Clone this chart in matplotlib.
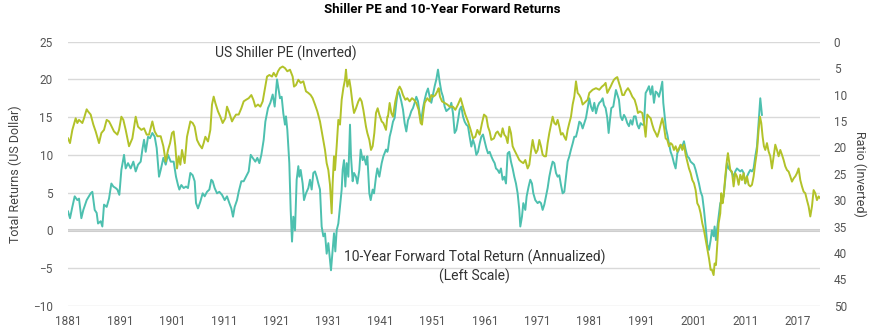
import matplotlib
matplotlib.use("Agg")
import matplotlib.pyplot as plt

plt.rcParams['font.family'] = ['Roboto', 'DejaVu Sans']

# Shiller PE (right axis, inverted)
pe_years = [
    1881.00, 1881.38, 1881.83, 1882.47, 1882.79, 1883.11, 1883.75, 1884.07, 1884.58, 1884.84,
    1885.35, 1885.86, 1886.31, 1886.95, 1887.40, 1887.91, 1888.42, 1888.87, 1889.19, 1889.83,
    1890.47, 1890.79, 1891.24, 1891.62, 1892.07, 1892.71, 1893.35, 1893.99, 1894.44, 1895.08,
    1895.59, 1896.10, 1896.55, 1897.19, 1897.64, 1898.15, 1898.79, 1899.30, 1899.75, 1900.20,
    1900.59, 1900.96, 1901.28, 1901.60, 1901.92, 1902.24, 1902.56, 1902.88, 1903.39, 1903.84,
    1904.48, 1904.93, 1905.31, 1905.76, 1906.21, 1906.72, 1907.04, 1907.36, 1907.87, 1908.32,
    1908.64, 1908.96, 1909.28, 1909.79, 1910.24, 1910.69, 1911.20, 1911.52, 1911.97, 1912.48,
    1912.80, 1913.25, 1913.76, 1914.27, 1914.72, 1915.17, 1915.68, 1916.19, 1916.58, 1916.96,
    1917.47, 1917.92, 1918.37, 1918.75, 1919.20, 1919.65, 1920.16, 1920.48, 1920.93, 1921.31,
    1921.69, 1922.20, 1922.65, 1923.10, 1923.61, 1924.12, 1924.38, 1924.76, 1925.21, 1925.66,
    1926.17, 1926.68, 1927.13, 1927.58, 1927.96, 1928.41, 1928.86, 1929.37, 1929.88, 1930.33,
    1930.65, 1930.97, 1931.29, 1931.61, 1931.80, 1932.06, 1932.25, 1932.57, 1932.89, 1933.21,
    1933.53, 1933.85, 1934.17, 1934.36, 1934.62, 1935.00, 1935.26, 1935.64, 1935.90, 1936.28,
    1936.73, 1937.05, 1937.37, 1937.69, 1938.20, 1938.46, 1938.84, 1939.16, 1939.48, 1939.80,
    1940.12, 1940.44, 1940.76, 1941.21, 1941.53, 1942.04, 1942.30, 1942.42, 1942.74, 1943.06,
    1943.38, 1943.83, 1944.34, 1944.66, 1944.98, 1945.30, 1945.75, 1946.13, 1946.58, 1947.03,
    1947.41, 1947.86, 1948.31, 1948.69, 1948.95, 1949.20, 1949.46, 1949.97, 1950.42, 1950.74,
    1951.12, 1951.51, 1951.89, 1952.15, 1952.40, 1952.79, 1953.30, 1953.81, 1954.26, 1954.90,
    1955.35, 1955.86, 1956.37, 1956.82, 1957.27, 1957.78, 1958.29, 1958.74, 1959.19, 1959.57,
    1960.02, 1960.47, 1960.85, 1961.30, 1961.62, 1961.94, 1962.26, 1962.77, 1963.15, 1963.47,
    1963.79, 1964.11, 1964.43, 1964.75, 1965.07, 1965.39, 1965.71, 1966.03, 1966.35, 1966.67,
    1967.12, 1967.63, 1967.95, 1968.40, 1968.78, 1969.23, 1969.55, 1969.87, 1970.19, 1970.51,
    1970.83, 1971.15, 1971.47, 1971.79, 1972.11, 1972.43, 1972.75, 1973.07, 1973.39, 1973.71,
    1974.03, 1974.35, 1974.67, 1974.99, 1975.31, 1975.63, 1975.95, 1976.27, 1976.59, 1976.91,
    1977.23, 1977.55, 1977.87, 1978.19, 1978.51, 1978.83, 1979.15, 1979.47, 1979.79, 1980.11,
    1980.43, 1980.75, 1981.07, 1981.39, 1981.71, 1982.35, 1982.99, 1983.50, 1983.88, 1984.20,
    1984.52, 1984.84, 1985.16, 1985.48, 1985.80, 1986.12, 1986.44, 1986.76, 1987.08, 1987.40,
    1987.72, 1988.04, 1988.49, 1988.87, 1989.32, 1989.77, 1990.15, 1990.41, 1990.79, 1991.24,
    1991.56, 1991.88, 1992.20, 1992.52, 1992.84, 1993.16, 1993.48, 1993.80, 1994.12, 1994.44,
    1994.76, 1995.08, 1995.40, 1995.72, 1996.04, 1996.36, 1996.68, 1997.00, 1997.32, 1997.64,
    1997.96, 1998.28, 1998.60, 1998.92, 1999.24, 1999.56, 1999.88, 2000.20, 2000.52, 2000.84,
    2001.16, 2001.48, 2001.80, 2002.12, 2002.44, 2002.76, 2003.08, 2003.40, 2003.72, 2004.04,
    2004.36, 2004.61, 2004.93, 2005.12, 2005.38, 2005.57, 2005.76, 2005.89, 2006.21, 2006.40,
    2006.66, 2006.85, 2007.17, 2007.49, 2007.68, 2007.94, 2008.13, 2008.45, 2008.77, 2009.09,
    2009.41, 2009.73, 2010.05, 2010.37, 2010.69, 2011.01, 2011.33, 2011.65, 2011.97, 2012.29,
    2012.61, 2012.93, 2013.25, 2013.57, 2013.83, 2014.08, 2014.34, 2014.59, 2014.85, 2015.17,
    2015.49, 2015.81, 2016.13, 2016.45, 2016.77, 2017.09, 2017.41, 2017.73, 2018.05, 2018.37,
    2018.69, 2019.01, 2019.33, 2019.65, 2019.97, 2020.29, 2020.61, 2020.93, 2021.25, 2021.57,
    2021.89, 2022.21, 2022.53, 2022.85, 2023.17, 2023.49, 2023.81, 2024.13, 2024.45, 2024.77,
    2025.09, 2025.35,
]
pe_values = [
    18.3, 19.2, 16.7, 14.5, 15.4, 14.8, 15.4, 14.5, 12.8, 13.2,
    13.8, 15.7, 17.0, 19.2, 17.3, 16.7, 14.8, 15.1, 15.7, 17.0,
    17.6, 16.7, 14.2, 14.8, 16.7, 19.8, 18.3, 14.2, 16.1, 16.7,
    16.4, 17.6, 17.6, 15.1, 17.0, 17.9, 17.9, 19.8, 22.7, 20.5,
    19.2, 17.3, 17.0, 19.8, 24.0, 21.7, 23.3, 20.5, 23.0, 18.0,
    15.1, 15.4, 16.1, 18.6, 19.5, 20.2, 19.2, 18.0, 18.9, 16.7,
    11.9, 10.4, 11.6, 13.2, 14.2, 15.4, 14.5, 12.3, 13.5, 15.1,
    14.5, 13.8, 13.8, 12.6, 11.3, 11.0, 10.7, 10.1, 11.0, 12.3,
    11.9, 12.3, 11.3, 9.1, 6.6, 6.3, 6.6, 5.9, 6.6, 5.6,
    5.0, 4.7, 5.0, 5.6, 5.3, 6.6, 8.5, 8.2, 7.2, 7.8,
    7.5, 9.4, 9.7, 10.1, 10.7, 11.9, 13.2, 15.1, 18.0, 20.5,
    23.0, 24.3, 27.1, 32.5, 26.8, 21.7, 24.3, 19.8, 14.8, 15.7,
    11.0, 8.8, 7.2, 5.3, 8.5, 7.2, 8.8, 11.9, 13.5, 12.6,
    11.3, 10.7, 11.3, 12.9, 16.1, 17.3, 18.6, 20.5, 19.8, 17.3,
    13.5, 12.6, 13.8, 15.1, 15.4, 16.7, 14.2, 14.2, 11.6, 13.5,
    14.2, 11.3, 9.1, 8.5, 9.1, 10.1, 11.0, 10.7, 11.3, 10.7,
    11.0, 11.6, 12.9, 15.4, 15.7, 13.5, 11.6, 10.7, 11.3, 10.1,
    10.4, 10.1, 9.4, 8.8, 10.4, 11.3, 11.6, 11.9, 12.3, 12.3,
    12.9, 11.9, 10.7, 12.3, 13.8, 15.1, 16.7, 18.3, 18.0, 16.7,
    17.6, 15.4, 13.8, 14.2, 16.1, 17.0, 18.6, 18.3, 17.3, 17.0,
    17.6, 18.0, 16.4, 17.6, 18.0, 19.2, 16.1, 17.3, 19.8, 20.5,
    21.4, 22.4, 22.7, 23.0, 22.4, 24.0, 23.3, 20.8, 18.6, 20.2,
    21.1, 20.5, 18.6, 19.8, 21.4, 21.7, 21.7, 19.2, 17.3, 15.7,
    14.2, 15.4, 15.7, 14.8, 16.1, 17.6, 17.3, 18.0, 18.6, 16.7,
    15.4, 14.2, 11.9, 10.4, 7.5, 9.7, 10.1, 10.7, 11.9, 11.6,
    11.3, 11.0, 9.7, 9.4, 9.1, 8.8, 9.1, 8.5, 8.2, 7.8,
    9.7, 9.1, 8.5, 7.8, 7.2, 6.9, 6.7, 7.8, 8.8, 10.1,
    10.1, 9.4, 8.8, 9.4, 10.4, 11.0, 12.3, 13.5, 13.2, 13.5,
    15.4, 18.0, 13.8, 14.2, 14.5, 15.7, 16.7, 17.3, 18.0, 17.0,
    15.7, 14.5, 16.1, 18.3, 18.6, 19.8, 19.2, 19.5, 20.5, 19.8,
    20.8, 20.2, 19.5, 20.5, 19.5, 21.4, 22.7, 24.0, 24.9, 26.2,
    26.8, 28.1, 30.6, 31.2, 32.5, 34.4, 35.7, 37.5, 39.4, 41.0,
    43.2, 43.2, 44.2, 42.0, 42.3, 39.4, 36.3, 34.4, 32.5, 28.7,
    30.6, 29.3, 25.5, 22.4, 21.1, 23.0, 24.3, 24.6, 27.4, 24.9,
    25.5, 27.1, 25.2, 26.2, 24.9, 26.8, 25.5, 27.1, 27.4, 27.1,
    25.5, 23.0, 20.8, 16.7, 14.2, 15.4, 18.0, 19.8, 20.5, 19.2,
    20.8, 21.7, 24.0, 21.7, 19.5, 20.5, 21.7, 20.5, 21.4, 22.4,
    23.6, 24.3, 24.6, 25.5, 26.5, 25.9, 25.5, 24.9, 24.0, 26.2,
    27.4, 28.4, 28.7, 30.0, 31.2, 33.1, 31.2, 28.1, 28.7, 30.0,
    29.3, 29.6,
]

# 10-year forward total return, annualized (left axis)
ret_years = [
    1881.00, 1881.38, 1881.83, 1882.28, 1882.79, 1883.11, 1883.56, 1883.94, 1884.58, 1885.35,
    1885.67, 1886.12, 1886.50, 1886.76, 1887.27, 1887.59, 1887.91, 1888.42, 1888.87, 1889.32,
    1889.70, 1890.15, 1890.47, 1890.85, 1891.24, 1891.75, 1892.07, 1892.52, 1893.03, 1893.54,
    1893.99, 1894.44, 1894.95, 1895.27, 1895.59, 1895.91, 1896.36, 1896.74, 1897.19, 1897.64,
    1898.02, 1898.47, 1898.79, 1899.30, 1899.75, 1900.20, 1900.71, 1900.96, 1901.28, 1901.73,
    1902.11, 1902.37, 1902.75, 1903.20, 1903.65, 1904.03, 1904.48, 1904.93, 1905.31, 1905.57,
    1905.95, 1906.40, 1906.85, 1907.23, 1907.68, 1908.13, 1908.51, 1908.77, 1909.15, 1909.60,
    1910.05, 1910.56, 1911.07, 1911.52, 1911.97, 1912.35, 1912.67, 1912.99, 1913.44, 1913.76,
    1914.27, 1914.72, 1915.17, 1915.68, 1916.07, 1916.45, 1916.96, 1917.34, 1917.73, 1918.11,
    1918.56, 1918.88, 1919.39, 1919.84, 1920.29, 1920.67, 1921.12, 1921.44, 1921.69, 1922.01,
    1922.33, 1922.65, 1922.84, 1923.10, 1923.48, 1923.74, 1924.00, 1924.25, 1924.57, 1924.89,
    1925.21, 1925.40, 1925.66, 1926.04, 1926.30, 1926.68, 1927.13, 1927.45, 1927.77, 1928.09,
    1928.41, 1928.73, 1929.05, 1929.37, 1929.69, 1930.01, 1930.33, 1930.65, 1930.97, 1931.29,
    1931.48, 1931.80, 1932.06, 1932.31, 1932.57, 1932.89, 1933.21, 1933.53, 1933.72, 1933.98,
    1934.23, 1934.49, 1934.81, 1935.13, 1935.32, 1935.64, 1935.90, 1936.28, 1936.54, 1936.92,
    1937.18, 1937.56, 1937.82, 1938.20, 1938.46, 1938.84, 1939.10, 1939.48, 1939.74, 1940.12,
    1940.38, 1940.76, 1941.21, 1941.53, 1942.04, 1942.30, 1942.42, 1942.74, 1943.06, 1943.38,
    1943.70, 1944.02, 1944.34, 1944.66, 1944.98, 1945.30, 1945.62, 1945.94, 1946.26, 1946.58,
    1946.90, 1947.22, 1947.54, 1947.86, 1948.18, 1948.50, 1948.82, 1949.14, 1949.46, 1949.78,
    1950.10, 1950.42, 1950.74, 1951.06, 1951.38, 1951.70, 1952.02, 1952.34, 1952.66, 1952.98,
    1953.30, 1953.62, 1953.94, 1954.26, 1954.58, 1954.90, 1955.22, 1955.54, 1955.86, 1956.18,
    1956.50, 1956.82, 1957.14, 1957.46, 1957.78, 1958.10, 1958.42, 1958.74, 1959.06, 1959.38,
    1959.70, 1960.02, 1960.34, 1960.66, 1960.98, 1961.30, 1961.62, 1961.94, 1962.26, 1962.58,
    1962.90, 1963.15, 1963.47, 1963.79, 1964.11, 1964.43, 1964.75, 1965.07, 1965.39, 1965.71,
    1966.03, 1966.35, 1966.67, 1966.99, 1967.31, 1967.63, 1967.82, 1968.14, 1968.40, 1968.78,
    1969.04, 1969.42, 1969.74, 1970.06, 1970.32, 1970.70, 1971.15, 1971.47, 1971.79, 1972.11,
    1972.43, 1972.75, 1973.07, 1973.39, 1973.71, 1974.03, 1974.35, 1974.67, 1974.99, 1975.31,
    1975.63, 1975.95, 1976.27, 1976.59, 1976.91, 1977.23, 1977.55, 1977.87, 1978.19, 1978.51,
    1978.83, 1979.15, 1979.47, 1979.79, 1980.11, 1980.43, 1980.75, 1981.07, 1981.39, 1981.71,
    1982.03, 1982.35, 1982.67, 1982.99, 1983.31, 1983.63, 1983.88, 1984.20, 1984.52, 1984.78,
    1985.03, 1985.29, 1985.67, 1985.93, 1986.18, 1986.44, 1986.76, 1987.08, 1987.40, 1987.72,
    1988.04, 1988.36, 1988.68, 1989.00, 1989.32, 1989.64, 1989.96, 1990.28, 1990.60, 1990.92,
    1991.24, 1991.56, 1991.88, 1992.20, 1992.52, 1992.84, 1993.16, 1993.48, 1993.80, 1994.12,
    1994.44, 1994.76, 1995.08, 1995.27, 1995.53, 1995.78, 1996.04, 1996.36, 1996.68, 1997.00,
    1997.32, 1997.64, 1997.96, 1998.28, 1998.60, 1998.92, 1999.24, 1999.56, 1999.88, 2000.20,
    2000.52, 2000.84, 2001.16, 2001.48, 2001.80, 2002.12, 2002.44, 2002.76, 2003.08, 2003.40,
    2003.72, 2004.04, 2004.36, 2004.61, 2004.93, 2005.12, 2005.38, 2005.57, 2005.89, 2006.21,
    2006.53, 2006.85, 2007.17, 2007.49, 2007.81, 2008.13, 2008.45, 2008.77, 2009.09, 2009.41,
    2009.73, 2010.05, 2010.37, 2010.69, 2011.01, 2011.33, 2011.65, 2011.97, 2012.29, 2012.61,
    2012.93, 2013.25, 2013.57, 2013.89, 2014.21,
]
ret_values = [
    2.5, 1.6, 3.1, 4.5, 4.0, 4.2, 1.6, 2.7, 4.0, 4.9,
    5.1, 2.7, 2.3, 0.9, 1.2, 0.5, 3.4, 3.1, 4.2, 6.2,
    5.8, 5.6, 5.4, 4.7, 8.0, 10.0, 8.2, 8.9, 8.2, 9.1,
    7.8, 8.7, 9.1, 10.7, 12.0, 10.4, 12.4, 12.2, 12.9, 12.4,
    10.9, 7.1, 8.0, 9.6, 8.7, 10.0, 9.1, 9.1, 9.1, 7.1,
    6.0, 5.4, 6.0, 5.6, 5.8, 5.6, 7.6, 7.3, 6.5, 3.6,
    2.9, 3.8, 4.9, 4.5, 5.1, 5.4, 6.7, 6.5, 5.6, 4.9,
    5.1, 4.7, 4.0, 4.5, 3.6, 2.9, 1.8, 3.1, 4.0, 5.1,
    6.5, 6.5, 7.1, 7.8, 10.0, 9.6, 9.1, 9.6, 8.9, 10.0,
    12.0, 14.4, 16.2, 16.9, 18.0, 16.4, 20.0, 18.6, 17.5, 17.7,
    15.5, 14.0, 15.1, 13.3, 8.9, 2.7, -1.5, 1.8, 0.0, 6.7,
    8.5, 7.1, 8.0, 6.2, 4.0, 4.9, 5.6, 6.7, 5.4, 7.6,
    7.8, 7.1, 6.2, 5.4, 0.5, -0.8, -0.4, -3.1, -1.7, -3.9,
    -5.3, -2.6, -0.4, -2.8, 0.0, 0.9, 3.1, 5.4, 8.0, 9.3,
    5.8, 8.9, 7.1, 14.0, 9.8, 6.5, 7.6, 7.1, 6.2, 8.0,
    10.7, 9.3, 9.8, 8.7, 9.8, 4.9, 4.0, 5.4, 4.9, 7.1,
    8.2, 7.1, 8.9, 9.8, 10.7, 10.4, 10.7, 12.4, 13.3, 14.4,
    14.9, 16.9, 18.6, 18.0, 17.1, 16.0, 14.2, 13.1, 14.6, 15.1,
    15.8, 16.2, 16.9, 17.7, 17.1, 15.5, 14.6, 16.2, 17.3, 18.2,
    18.8, 17.7, 16.9, 18.0, 19.1, 20.0, 21.3, 19.7, 18.4, 17.7,
    16.4, 15.8, 16.0, 16.2, 16.9, 15.5, 12.9, 13.3, 14.6, 16.0,
    16.4, 15.1, 14.4, 14.0, 13.8, 12.4, 11.1, 12.0, 11.3, 10.0,
    10.4, 11.5, 12.4, 12.7, 11.8, 10.9, 10.2, 10.4, 9.8, 9.3,
    8.9, 8.2, 8.0, 7.6, 8.2, 6.7, 7.1, 6.2, 10.2, 10.4,
    9.1, 8.2, 7.1, 6.2, 4.9, 2.7, 0.5, 1.8, 3.6, 2.7,
    4.5, 5.8, 6.7, 6.2, 4.9, 4.0, 3.6, 3.8, 3.6, 2.7,
    3.4, 4.5, 5.6, 7.1, 8.2, 9.1, 8.9, 7.6, 7.1, 7.3,
    6.0, 4.9, 5.1, 7.1, 9.1, 9.8, 10.7, 11.5, 12.4, 12.4,
    13.3, 14.4, 14.2, 13.5, 14.2, 14.9, 16.2, 17.5, 16.4, 15.8,
    16.9, 15.5, 16.4, 16.9, 17.1, 17.5, 16.6, 16.2, 14.9, 12.9,
    14.6, 16.2, 16.4, 17.5, 18.6, 18.0, 17.3, 15.1, 14.6, 15.3,
    14.9, 14.2, 13.8, 14.6, 14.0, 15.1, 15.1, 14.0, 13.5, 14.2,
    14.0, 14.0, 18.2, 18.6, 19.1, 18.0, 19.1, 16.9, 18.4, 18.2,
    17.7, 18.6, 19.7, 16.9, 15.1, 13.5, 12.7, 11.5, 10.4, 9.8,
    8.9, 8.2, 10.2, 10.7, 11.3, 11.1, 11.8, 10.7, 9.8, 9.6,
    9.1, 8.9, 8.7, 8.0, 7.1, 6.2, 5.1, 4.5, 2.7, 0.5,
    -1.9, -2.6, -1.3, 0.0, -0.8, 0.5, -1.3, 0.0, 1.8, 3.6,
    4.0, 4.5, 6.7, 8.9, 8.2, 8.0, 7.6, 7.1, 7.8, 8.2,
    8.0, 7.8, 8.0, 7.6, 6.2, 7.1, 7.6, 8.0, 7.8, 8.2,
    9.8, 11.1, 14.2, 17.5, 15.3,
]

tick_years = [1881, 1891, 1901, 1911, 1921, 1931, 1941, 1951, 1961, 1971, 1981, 1991, 2001, 2011, 2021]
tick_labels = ['1881', '1891', '1901', '1911', '1921', '1931', '1941', '1951', '1961', '1971',
               '1981', '1991', '2001', '2011', '2017']

teal = '#4DC0AF'
lime = '#B2C229'
label_col = '#555555'

fig = plt.figure(figsize=(8.8, 3.3), dpi=100)
ax = fig.add_axes([0.0773, 0.0736, 0.8545, 0.80])
ax2 = ax.twinx()

# left axis: returns
ax.plot(ret_years, ret_values, color=teal, lw=1.4, zorder=3)
ax.set_ylim(-10, 25)
ax.set_yticks(range(-10, 30, 5))
ax.set_yticklabels([str(v).replace('-', '\u2212') for v in range(-10, 30, 5)])
ax.grid(axis='y', color='#d9d9d9', lw=1)
ax.axhline(0, color='#cccccc', lw=2.2, zorder=1)
ax.set_xlim(1881, 2025.35)
ax.set_xticks(tick_years)
ax.set_xticklabels(tick_labels)
ax.set_ylabel('Total Returns (US Dollar)', fontsize=9, color='#444444', labelpad=8)
ax.tick_params(axis='x', length=0, labelsize=8.5, colors=label_col, pad=7)
ax.tick_params(axis='y', length=0, labelsize=8.5, colors=label_col, pad=11)

# right axis: Shiller PE, inverted
ax2.plot(pe_years, pe_values, color=lime, lw=1.4)
ax2.set_ylim(50, 0)
ax2.set_yticks(range(0, 55, 5))
ax2.set_ylabel('Ratio (Inverted)', fontsize=9, color='#444444', rotation=270, labelpad=14)
ax2.tick_params(axis='y', length=0, labelsize=8.5, colors=label_col, pad=10)

for a in (ax, ax2):
    for s in a.spines.values():
        s.set_visible(False)

ax.text(1909.2, 23.4, 'US Shiller PE (Inverted)', fontsize=10, color='#333333',
        ha='left', va='center')
ax.text(1959.1, -4.85, '10-Year Forward Total Return (Annualized)\n(Left Scale)',
        fontsize=10, color='#333333', ha='center', va='center',
        multialignment='center', linespacing=1.3)

fig.suptitle('Shiller PE and 10-Year Forward Returns', fontsize=9.5, fontweight='bold',
             x=0.502, y=0.99, va='top')

fig.savefig('out.png', dpi=100)
